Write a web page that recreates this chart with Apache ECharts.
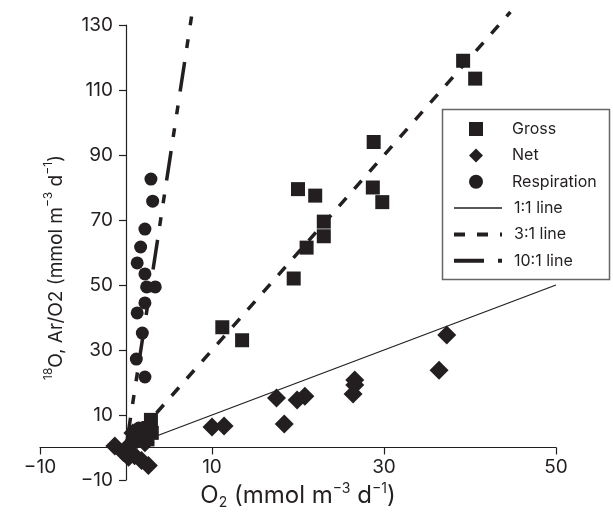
<!DOCTYPE html>
<html>
<head>
<meta charset="utf-8">
<script src="https://cdn.jsdelivr.net/npm/echarts@6/dist/echarts.min.js"></script>
<style>
  html, body { margin: 0; padding: 0; background: #fff; }
  #chart { width: 613px; height: 515px; }
</style>
</head>
<body>
<div id="chart"></div>
<script>
// tick values
var xTicks = [-10, 10, 30, 50];
var yTicks = [-10, 10, 30, 50, 70, 90, 110, 130];

// gross production (squares)
var gross = [
    [39.2, 119], [40.6, 113.5], [28.8, 94], [28.7, 80], [29.8, 75.5],
    [20, 79.5], [22, 77.5], [23, 69.5], [23, 65], [21, 61.5], [19.5, 52],
    [11.2, 37], [13.5, 33],
    [2.9, 8.5], [2.6, 6], [3, 4.5], [2, 5], [1.5, 3.5], [2.5, 2.5]
];
// net production (diamonds)
var net = [
    [37.3, 34.6], [36.4, 23.8], [26.6, 20.8], [26.6, 19.2], [26.4, 16.5],
    [20.8, 15.8], [19.9, 14.6], [17.5, 15.2], [18.4, 7.2], [10, 6.3], [11.4, 6.6],
    [-1.3, 0.5], [-0.3, -1.5], [0.5, 1], [1, -2.5], [1.8, -4], [2.6, -5.5],
    [1.3, 2.5], [0.8, 4.5], [2.2, 1.5], [0.3, -3]
];
// respiration (circles)
var respiration = [
    [2.9, 82.6], [3.1, 75.8], [2.2, 67.2], [1.7, 61.7], [1.3, 56.8], [2.2, 53.4],
    [2.4, 49.4], [3.4, 49.4], [2.2, 44.5], [1.3, 41.4], [1.9, 35.2], [1.2, 27.2],
    [2.2, 21.7], [1.5, 6], [1, 3], [2, 4]
];
// reference lines
var line1 = [[0, 0], [50, 50]];
var line3 = [[0, 0], [44.7, 134]];
var line10 = [[0, 0], [7.7, 134]];

var ink = '#231f20';
var fontFam = 'Inter, "Liberation Sans", Arial, sans-serif';

var W = 613, H = 515;
var gridL = 40, gridR = 57, gridT = 25, gridB = 35;
var xMin = xTicks[0], xMax = xTicks[xTicks.length - 1];
var yMin = yTicks[0], yMax = yTicks[yTicks.length - 1];
// move axes inward so they cross at zero
var yAxisOffset = -(0 - xMin) / (xMax - xMin) * (W - gridL - gridR);
var xAxisOffset = -(0 - yMin) / (yMax - yMin) * (H - gridT - gridB);

function minus(v) {
    return String(v).replace('-', '\u2212');
}

function makeRich(size, small) {
    return {
        t: { fontSize: size, color: ink, fontFamily: fontFam, lineHeight: 28 },
        sup: { fontSize: small, color: ink, fontFamily: fontFam, verticalAlign: 'top', lineHeight: 28 },
        sub: { fontSize: small, color: ink, fontFamily: fontFam, verticalAlign: 'bottom', lineHeight: 28 }
    };
}

var legendText = {
    fontSize: 16,
    lineHeight: 18,
    color: ink,
    fontFamily: fontFam
};

var chart = echarts.init(document.getElementById('chart'));

chart.setOption({
    backgroundColor: '#fff',
    animation: false,
    grid: {
        left: gridL,
        right: gridR,
        top: gridT,
        bottom: gridB,
        outerBoundsMode: 'none'
    },
    graphic: [{
        type: 'rect',
        left: 440,
        top: 107,
        shape: { width: 167, height: 170 },
        style: { fill: 'none', stroke: '#666', lineWidth: 1.5 },
        z: 10
    }],
    legend: [
        {
            orient: 'vertical',
            left: 469,
            top: 120,
            padding: 0,
            itemWidth: 14,
            itemHeight: 14,
            itemGap: 8.4,
            selectedMode: false,
            textStyle: Object.assign({ padding: [0, 0, 0, 24] }, legendText),
            data: ['Gross', 'Net', 'Respiration']
        },
        {
            orient: 'vertical',
            left: 452,
            top: 199,
            padding: 0,
            itemWidth: 48,
            itemHeight: 14,
            itemGap: 8.4,
            selectedMode: false,
            textStyle: Object.assign({ padding: [0, 0, 0, 7] }, legendText),
            data: [
                { name: '1:1 line', itemStyle: { opacity: 0 }, lineStyle: { width: 1.3 } },
                { name: '3:1 line', itemStyle: { opacity: 0 }, lineStyle: { width: 4 } },
                { name: '10:1 line', itemStyle: { opacity: 0 }, lineStyle: { width: 4 } }
            ]
        }
    ],
    xAxis: {
        type: 'value',
        min: xMin,
        max: xMax,
        interval: xTicks[1] - xTicks[0],
        offset: xAxisOffset,
        splitLine: { show: false },
        axisLine: { onZero: false, lineStyle: { color: ink, width: 1.2 } },
        axisTick: { length: 7, lineStyle: { color: ink, width: 1.2 } },
        axisLabel: {
            color: ink, fontSize: 19, fontFamily: fontFam, margin: 10,
            formatter: minus
        },
        name: '{t|O}{sub|2}{t| (mmol m}{sup|\u22123}{t| d}{sup|\u22121}{t|)}',
        nameLocation: 'middle',
        nameGap: 34,
        nameTextStyle: { rich: makeRich(24, 14) }
    },
    yAxis: {
        type: 'value',
        min: yMin,
        max: yMax,
        interval: yTicks[1] - yTicks[0],
        offset: yAxisOffset,
        splitLine: { show: false },
        axisLine: { onZero: false, lineStyle: { color: ink, width: 1.2 } },
        axisTick: { length: 7, lineStyle: { color: ink, width: 1.2 } },
        axisLabel: {
            color: ink, fontSize: 19, fontFamily: fontFam, margin: 13,
            formatter: minus
        },
        name: '{sup|18}{t|O, Ar/O2 (mmol m}{sup|\u22123}{t| d}{sup|\u22121}{t|)}',
        nameLocation: 'middle',
        nameGap: 56,
        nameRotate: 90,
        nameTextStyle: { rich: makeRich(19, 12), padding: [0, 30, 0, 0] }
    },
    series: [
        {
            name: '1:1 line',
            type: 'line',
            data: line1,
            symbol: 'none',
            clip: false,
            z: 1,
            itemStyle: { color: ink },
            lineStyle: { color: ink, width: 1.3 }
        },
        {
            name: '3:1 line',
            type: 'line',
            data: line3,
            symbol: 'none',
            clip: false,
            z: 1,
            itemStyle: { color: ink },
            lineStyle: { color: ink, width: 3.5, type: [11, 12], cap: 'butt' }
        },
        {
            name: '10:1 line',
            type: 'line',
            data: line10,
            symbol: 'none',
            clip: false,
            z: 1,
            itemStyle: { color: ink },
            lineStyle: { color: ink, width: 3.5, type: [30, 14, 9, 14, 9, 14], cap: 'butt' }
        },
        {
            name: 'Gross',
            type: 'scatter',
            data: gross,
            symbol: 'rect',
            symbolSize: 14,
            z: 3,
            itemStyle: { color: ink, opacity: 1 }
        },
        {
            name: 'Net',
            type: 'scatter',
            data: net,
            symbol: 'diamond',
            symbolSize: 19,
            z: 3,
            itemStyle: { color: ink, opacity: 1 }
        },
        {
            name: 'Respiration',
            type: 'scatter',
            data: respiration,
            symbol: 'circle',
            symbolSize: 13,
            z: 3,
            itemStyle: { color: ink, opacity: 1 }
        }
    ]
});
</script>
</body>
</html>
